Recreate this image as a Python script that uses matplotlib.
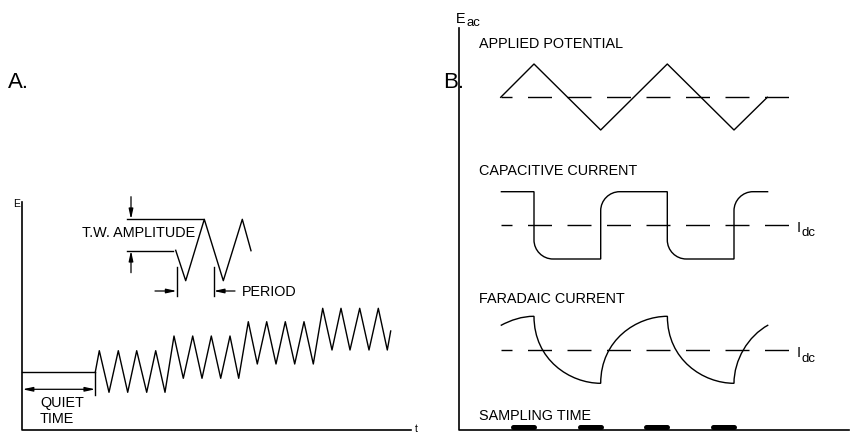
import numpy as np
import matplotlib.pyplot as plt
from matplotlib.path import Path
from matplotlib.patches import PathPatch

plt.rcParams['font.family'] = ['Liberation Sans', 'DejaVu Sans']

# Everything is in pixel coordinates (y grows downward)

# ---- panel A: staircase triangle wave ----
quiet_x = [22.5, 95.3]
quiet_y = 372
wave_x = [95.3, 99.3, 109, 118.3, 127.7, 136.7, 146.7, 155.7, 165,
          174, 183.3, 192.7, 202, 211.3, 220.7, 230, 238.7,
          248.3, 257.3, 266.7, 276, 285.3, 294.7, 304, 313.3,
          322.7, 332, 341, 350, 359.7, 369, 378.3, 387.3, 390.7]
wave_y = [372, 350.7, 392.3, 350.7, 392.3, 350.7, 392.3, 350.7, 392.3,
          336, 378.3, 336, 378.3, 336, 378.3, 336, 378.3,
          321.7, 364, 321.7, 364, 321.7, 364, 321.7, 364,
          308.3, 350, 308.3, 350, 308.3, 350, 308.3, 350, 331]

# inset wave showing amplitude and period
inset_x = [175.7, 185.7, 204.3, 223.3, 242.3, 251]
inset_y = [250.3, 280.7, 219.3, 280.7, 219.3, 250.7]

# ---- panel B ----
applied_x = [500.7, 534, 600.7, 667.3, 734, 767.3]
applied_y = [97.3, 64, 130, 64, 130, 97.3]

edges = [534, 600.7, 667.3, 734]   # half-period boundaries
b_start, b_end = 500.7, 768.3
cap_hi, cap_lo = 191.7, 259
corner_r = 19
far_hi, far_lo = 316.3, 383.3
far_start_y, far_end_y = 325.5, 325
dash_levels = [97.3, 225, 350]
sample_len = 21

fig = plt.figure(figsize=(8.57, 4.33), dpi=100)
ax = fig.add_axes([0, 0, 1, 1])
ax.set_xlim(0, 857)
ax.set_ylim(433, 0)
ax.axis('off')

lw = 1.0
k = 'black'
fs = 10.4

# axes of both panels
ax.plot([22.5, 22.5, 410.7], [202, 430, 430], color=k, lw=1.2)
ax.plot([459.3, 459.3, 849], [28.3, 430, 430], color=k, lw=1.2)

# panel A traces
ax.plot(quiet_x, [quiet_y, quiet_y], color=k, lw=lw)
ax.plot(wave_x, wave_y, color=k, lw=lw)
ax.plot(inset_x, inset_y, color=k, lw=lw)

arrow = dict(arrowstyle='-|>,head_length=0.6,head_width=0.13', lw=0.9,
             color=k, shrinkA=0, shrinkB=0)
# amplitude markers
ax.plot([126.7, 202.7], [219.3, 219.3], color=k, lw=lw)
ax.plot([126.7, 173.3], [250.7, 250.7], color=k, lw=lw)
ax.annotate('', xy=(131, 219.3), xytext=(131, 196.7), arrowprops=arrow)
ax.annotate('', xy=(131, 250.7), xytext=(131, 272.7), arrowprops=arrow)
ax.text(81.7, 237.3, 'T.W. AMPLITUDE', fontsize=fs, va='baseline')
# period markers
ax.plot([176.7, 176.7], [267.3, 296], color=k, lw=lw)
ax.plot([213.7, 213.7], [267.3, 296], color=k, lw=lw)
ax.annotate('', xy=(176.7, 291), xytext=(155, 291), arrowprops=arrow)
ax.annotate('', xy=(213.7, 291), xytext=(235, 291), arrowprops=arrow)
ax.text(241.7, 295.5, 'PERIOD', fontsize=fs, va='baseline')
# quiet time
ax.plot([95.3, 95.3], [quiet_y, 395], color=k, lw=lw)
dbl = dict(arrow, arrowstyle='<|-|>,head_length=0.6,head_width=0.13')
ax.annotate('', xy=(95.3, 389.3), xytext=(22.5, 389.3), arrowprops=dbl)
ax.text(40, 407.5, 'QUIET', fontsize=fs, va='baseline')
ax.text(40, 422.7, 'TIME', fontsize=fs, va='baseline')

ax.text(13, 207.3, 'E', fontsize=7.5, va='baseline')
ax.text(415, 432, 't', fontsize=7.5, va='baseline')
ax.text(8, 88.3, 'A.', fontsize=16, va='baseline')
ax.text(443, 88.3, 'B.', fontsize=16, va='baseline')

# panel B labels
ax.text(455.5, 22.7, 'E', fontsize=fs, va='baseline')
ax.text(466.3, 25.5, 'ac', fontsize=9.5, va='baseline')
ax.text(478.8, 47.7, 'APPLIED POTENTIAL', fontsize=fs, va='baseline')
ax.text(478.8, 175.3, 'CAPACITIVE CURRENT', fontsize=fs, va='baseline')
ax.text(478.8, 303.3, 'FARADAIC CURRENT', fontsize=fs, va='baseline')
ax.text(478.8, 420, 'SAMPLING TIME', fontsize=fs, va='baseline')
for yl in dash_levels[1:]:
    ax.text(796.2, yl + 6.7, 'I', fontsize=fs, va='baseline')
    ax.text(801.8, yl + 11.5, 'dc', fontsize=9.5, va='baseline')

# dashed reference levels
for yl in dash_levels:
    ax.plot([b_start, 790.5], [yl, yl], color=k, lw=lw,
            ls=(13 * 0.72, (24 * 0.72, 15.5 * 0.72)))

# applied potential
ax.plot(applied_x, applied_y, color=k, lw=lw)

# capacitive current: square wave with rounded corners after each switch
c = 0.55 * corner_r
verts = [(b_start, cap_hi), (edges[0], cap_hi)]
codes = [Path.MOVETO, Path.LINETO]
level = cap_hi
for i, e in enumerate(edges):
    new = cap_lo if level == cap_hi else cap_hi
    s = 1 if new > level else -1
    if i > 0:
        verts.append((e, level))
        codes.append(Path.LINETO)
    verts += [(e, new - s * corner_r), (e, new - s * (corner_r - c)),
              (e + corner_r - c, new), (e + corner_r, new)]
    codes += [Path.LINETO, Path.CURVE4, Path.CURVE4, Path.CURVE4]
    level = new
verts.append((b_end, level))
codes.append(Path.LINETO)
ax.add_patch(PathPatch(Path(verts, codes), fill=False, lw=lw, color=k))

# faradaic current: decaying arcs between switches
T = edges[1] - edges[0]
fv = [(b_start, far_start_y), (511, 320), (522, far_hi), (edges[0], far_hi)]
fc = [Path.MOVETO, Path.CURVE4, Path.CURVE4, Path.CURVE4]
for i, e in enumerate(edges[:-1]):
    if i % 2 == 0:   # decay from top to bottom
        fv += [(e, far_hi + 0.65 * (far_lo - far_hi)), (e + 0.54 * T, far_lo),
               (e + T, far_lo)]
    else:            # rise from bottom to top
        fv += [(e, far_lo - 0.65 * (far_lo - far_hi)), (e + 0.54 * T, far_hi),
               (e + T, far_hi)]
    fc += [Path.CURVE4] * 3
fv += [(edges[-1], 360), (748, 336), (b_end, far_end_y)]
fc += [Path.CURVE4] * 3
ax.add_patch(PathPatch(Path(fv, fc), fill=False, lw=lw, color=k))

# sampling windows
for e in edges:
    ax.plot([e - sample_len, e], [426.7, 426.7], color=k, lw=3.6,
            solid_capstyle='round')

fig.savefig('out.png', dpi=100)
